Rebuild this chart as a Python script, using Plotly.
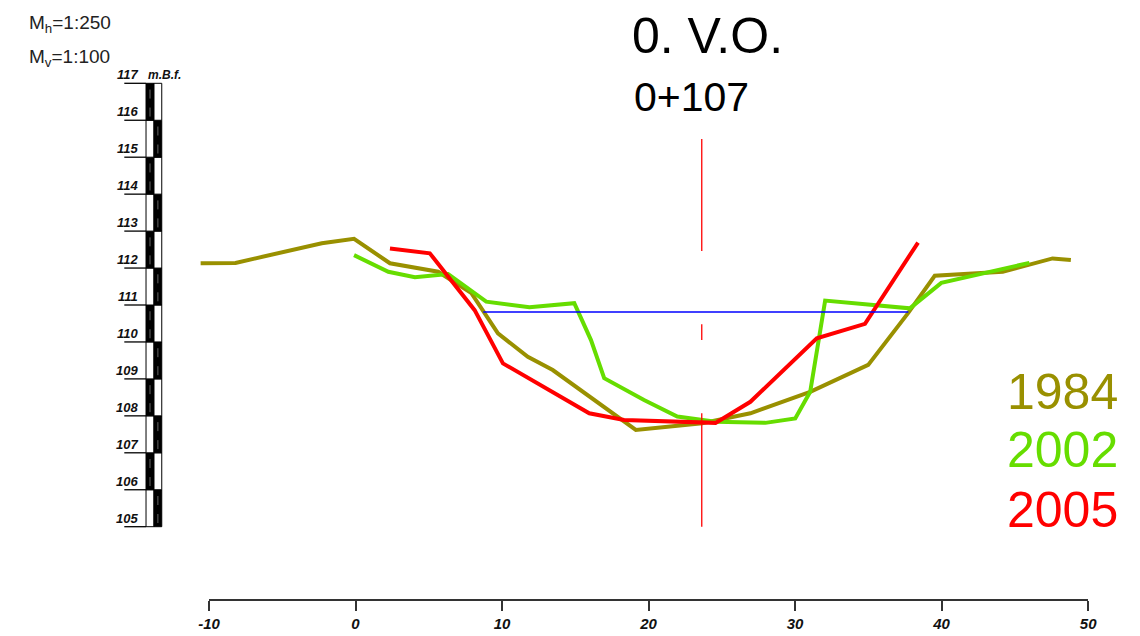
import plotly.graph_objects as go

W, H = 1140, 636

# ---------------- data ----------------
years = ["1984", "2002", "2005"]
colors = ["#999000", "#66dd00", "#ff0000"]

x_1984 = [-10.57, -8.19, -2.30, -0.10, 2.35, 5.64, 7.91, 9.72, 11.76, 13.46,
          19.13, 23.66, 26.95, 31.03, 34.99, 37.71, 39.53, 44.17, 47.57, 48.82]
z_1984 = [112.13, 112.14, 112.67, 112.79, 112.13, 111.90, 111.32, 110.23, 109.60, 109.24,
          107.62, 107.80, 108.07, 108.65, 109.38, 110.78, 111.79, 111.90, 112.26, 112.22]

x_2002 = [-0.10, 2.24, 4.05, 6.32, 8.92, 11.87, 14.93, 16.07, 16.97, 19.69,
          21.96, 24.57, 27.97, 30.01, 31.03, 32.05, 37.83, 39.98, 45.99]
z_2002 = [112.35, 111.90, 111.75, 111.84, 111.09, 110.94, 111.05, 110.05, 109.02, 108.43,
          107.98, 107.84, 107.81, 107.93, 108.65, 111.12, 110.91, 111.60, 112.14]

x_2005 = [2.35, 5.07, 8.13, 10.06, 15.95, 18.33, 24.57, 26.04, 26.95, 31.48, 34.77, 38.39]
z_2005 = [112.53, 112.40, 110.86, 109.42, 108.07, 107.89, 107.81, 108.16, 108.38, 110.10, 110.49, 112.69]

water_x = [8.72, 37.73]
water_z = [110.81, 110.81]

axis_x_line = 23.63
axis_segments = [(115.49, 112.46), (110.48, 110.05), (108.07, 105.00)]

x_ticks = [-10, 0, 10, 20, 30, 40, 50]
x_ticktext = ["-10", "0", "10", "20", "30", "40", "50"]
scale_levels = list(range(105, 118))

title_text = "0. V.O."
station_text = "0+107"
mh_text = "M<sub>h</sub>=1:250"
mv_text = "M<sub>v</sub>=1:100"
datum_text = "m.B.f."

# ---------------- layout constants (pixels) ----------------
def hx(p):
    # horizontal pixel compensation for the rendered page (observed offset/scale)
    return (p - 8.0) * W / (W - 16.0)

PX_M10, PX_50 = hx(206.7), hx(1089.0)      # pixel positions of -10 and 50
PX_PER_M = (PX_50 - PX_M10) / 60.0
Y117_PX, PX_PER_MV = 83.3, 36.95
xr = [-10 - PX_M10 / PX_PER_M, -10 + (W - PX_M10) / PX_PER_M]
yr = [117 - (H - Y117_PX) / PX_PER_MV, 117 + Y117_PX / PX_PER_MV]

fig = go.Figure()

for name, xs, zs, c in zip(years, [x_1984, x_2002, x_2005], [z_1984, z_2002, z_2005], colors):
    fig.add_trace(go.Scatter(x=xs, y=zs, mode="lines", name=name,
                             line=dict(color=c, width=4), showlegend=False, hoverinfo="skip"))

# water level on the lower scale axis (same scale as the main axis)
fig.add_trace(go.Scatter(x=water_x, y=water_z, mode="lines", xaxis="x2", yaxis="y",
                         line=dict(color="#0000ff", width=1.5), showlegend=False, hoverinfo="skip"))

shapes = []
for y0, y1 in axis_segments:
    shapes.append(dict(type="line", xref="x", yref="y", x0=axis_x_line, x1=axis_x_line,
                       y0=y0, y1=y1, line=dict(color="#ff0000", width=1.3)))

# vertical scale bar
BAR_L, BAR_M, BAR_R, TICK_L = hx(143.5), hx(151.5), hx(159.3), hx(121.7)
for i in range(len(scale_levels) - 1):
    lo, hi = scale_levels[i], scale_levels[i + 1]
    left_black = ((117 - hi) % 2 == 0)
    for (a, b, black) in [(BAR_L, BAR_M, left_black), (BAR_M, BAR_R, not left_black)]:
        shapes.append(dict(type="rect", xref="paper", yref="y", x0=a / W, x1=b / W, y0=lo, y1=hi,
                           fillcolor="#000000" if black else "#ffffff",
                           line=dict(color="#000000", width=1)))
        if black:
            cx = (a + b) / 2 / W
            shapes.append(dict(type="line", xref="paper", yref="y", x0=cx, x1=cx,
                               y0=lo + 0.1, y1=hi - 0.1,
                               line=dict(color="#666666", width=1, dash="dash")))
for lv in scale_levels:
    shapes.append(dict(type="line", xref="paper", yref="y", x0=TICK_L / W, x1=BAR_L / W,
                       y0=lv, y1=lv, line=dict(color="#000000", width=1.3)))

label_font = dict(family="Liberation Sans Narrow, Liberation Sans, Arial", size=13,
                  color="#111111", style="italic", weight="bold")
annotations = []
for lv in scale_levels:
    annotations.append(dict(xref="paper", yref="y", x=hx(137) / W, y=lv, text=str(lv),
                            showarrow=False, xanchor="right", yanchor="bottom",
                            font=label_font, yshift=-1))
annotations.append(dict(xref="paper", yref="y", x=BAR_L / W, y=117, text=datum_text,
                        showarrow=False, xanchor="left", yanchor="bottom",
                        font=dict(label_font, size=12), yshift=-1))

big = "Liberation Sans, Arial"
annotations += [
    dict(xref="paper", yref="paper", x=hx(707) / W, y=1 - 36 / H, text=title_text, showarrow=False,
         xanchor="center", yanchor="middle", font=dict(family=big, size=50, color="#000000")),
    dict(xref="paper", yref="paper", x=hx(691) / W, y=1 - 97 / H, text=station_text, showarrow=False,
         xanchor="center", yanchor="middle", font=dict(family=big, size=41, color="#000000")),
    dict(xref="paper", yref="paper", x=hx(24) / W, y=1 - 24 / H, text=mh_text, showarrow=False,
         xanchor="left", yanchor="middle", font=dict(family=big, size=19, color="#222222")),
    dict(xref="paper", yref="paper", x=hx(24) / W, y=1 - 58 / H, text=mv_text, showarrow=False,
         xanchor="left", yanchor="middle", font=dict(family=big, size=19, color="#222222")),
]
legend_y = [392, 450, 510]
for name, c, py in zip(years, colors, legend_y):
    annotations.append(dict(xref="paper", yref="paper", x=hx(1063) / W, y=1 - py / H, text=name,
                            showarrow=False, xanchor="center", yanchor="middle",
                            font=dict(family=big, size=50, color=c)))

fig.update_layout(
    width=W, height=H, margin=dict(l=0, r=0, t=0, b=0),
    paper_bgcolor="#ffffff", plot_bgcolor="rgba(0,0,0,0)",
    xaxis=dict(range=xr, visible=False, domain=[0, 1]),
    yaxis=dict(range=yr, visible=False, domain=[0, 1]),
    xaxis2=dict(range=[-10, 50], domain=[PX_M10 / W, PX_50 / W], anchor="free",
                position=1 - 600 / H, side="bottom", showline=True, linecolor="#333333",
                linewidth=1.5, ticks="outside", ticklen=10, tickwidth=1.5, tickcolor="#333333",
                tickvals=x_ticks, ticktext=x_ticktext, showgrid=False, zeroline=False,
                tickfont=dict(label_font, size=15)),
    shapes=shapes, annotations=annotations, showlegend=False,
)

fig.write_html("out.html", config={"displayModeBar": False},
               post_script="document.body.style.margin='0';document.body.style.overflow='hidden';")
